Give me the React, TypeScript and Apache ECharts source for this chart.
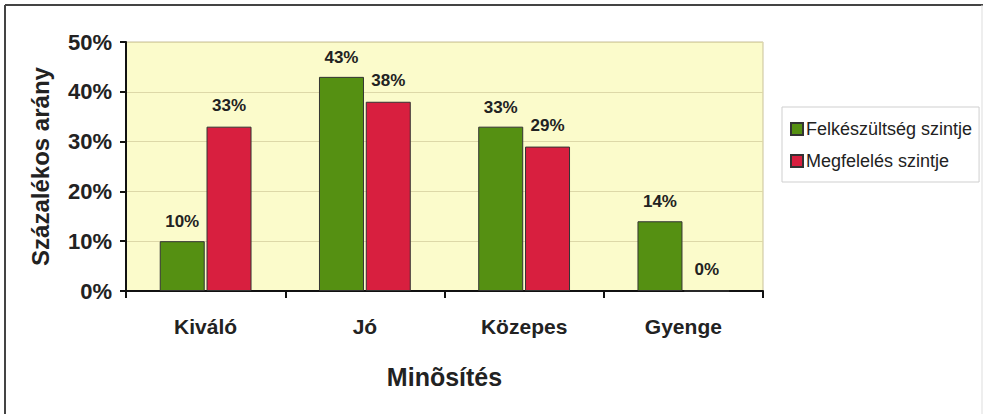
import React, { useEffect, useRef } from "react";
import * as echarts from "echarts";

const categories = ["Kiváló", "Jó", "Közepes", "Gyenge"];
const preparedness = [10, 43, 33, 14];
const compliance = [33, 38, 29, 0];
const seriesNames = ["Felkészültség szintje", "Megfelelés szintje"];
const yTicks = { min: 0, max: 50, interval: 10 };

export default function App() {
  const ref = useRef<HTMLDivElement>(null);
  useEffect(() => {
    const chart = echarts.init(ref.current!, null, { renderer: "svg" });
    const font = "Arial, 'Liberation Sans', sans-serif";
    const label = {
      show: true,
      position: "top" as const,
      distance: 11,
      formatter: "{c}%",
      fontFamily: font,
      fontWeight: "bold" as const,
      fontSize: 17,
      color: "#222",
    };
    chart.setOption({
      animation: false,
      backgroundColor: "#fff",
      textStyle: { fontFamily: font },
      grid: {
        left: 126,
        top: 42,
        width: 637,
        height: 249,
        show: true,
        backgroundColor: "#FBFBCB",
        borderColor: "#c9c19a",
        borderWidth: 1,
      },
      legend: {
        orient: "vertical",
        left: 782,
        top: 107,
        padding: [13, 7, 12, 8],
        itemGap: 14,
        itemWidth: 12,
        itemHeight: 12,
        icon: "rect",
        borderColor: "#cfcfcf",
        borderWidth: 1,
        textStyle: { fontFamily: font, fontSize: 18, color: "#222", padding: [0, 0, 0, -2] },
        data: seriesNames,
      },
      xAxis: {
        type: "category",
        data: categories,
        name: "Minõsítés",
        nameLocation: "middle",
        nameGap: 73,
        nameTextStyle: { fontFamily: font, fontWeight: "bold", fontSize: 25, color: "#222" },
        axisLine: { lineStyle: { color: "#111", width: 2 } },
        axisTick: { show: true, length: 7, lineStyle: { color: "#111", width: 2 } },
        axisLabel: { margin: 25, fontFamily: font, fontWeight: "bold", fontSize: 21, color: "#222" },
      },
      yAxis: {
        type: "value",
        min: yTicks.min,
        max: yTicks.max,
        interval: yTicks.interval,
        name: "Százalékos arány",
        nameLocation: "middle",
        nameGap: 74,
        nameTextStyle: { fontFamily: font, fontWeight: "bold", fontSize: 24, color: "#222" },
        axisLine: { show: true, lineStyle: { color: "#111", width: 2 } },
        axisTick: { show: true, length: 6, lineStyle: { color: "#111", width: 2 } },
        axisLabel: {
          margin: 14,
          formatter: "{value}%",
          fontFamily: font,
          fontWeight: "bold",
          fontSize: 22,
          color: "#222",
        },
        splitLine: { lineStyle: { color: "#ddd8a8", width: 1 } },
      },
      series: [
        {
          name: seriesNames[0],
          type: "bar",
          data: preparedness,
          barWidth: 45,
          barGap: "4%",
          itemStyle: { color: "#559012", borderColor: "#333", borderWidth: 1 },
          label,
        },
        {
          name: seriesNames[1],
          type: "bar",
          data: compliance,
          barWidth: 45,
          itemStyle: { color: "#D81F3F", borderColor: "#333", borderWidth: 1 },
          label: { ...label, distance: 13 },
        },
      ],
      graphic: [
        { type: "line", shape: { x1: 5, y1: 5, x2: 983, y2: 5 }, style: { stroke: "#444", lineWidth: 2 } },
        { type: "line", shape: { x1: 5, y1: 5, x2: 5, y2: 414 }, style: { stroke: "#444", lineWidth: 2 } },
        { type: "line", shape: { x1: 982, y1: 5, x2: 982, y2: 414 }, style: { stroke: "#ddd", lineWidth: 1 } },
      ],
    });
    return () => chart.dispose();
  }, []);
  return (
    <div
      ref={ref}
      style={{ position: "fixed", left: 0, top: 0, width: 986, height: 414 }}
    />
  );
}
